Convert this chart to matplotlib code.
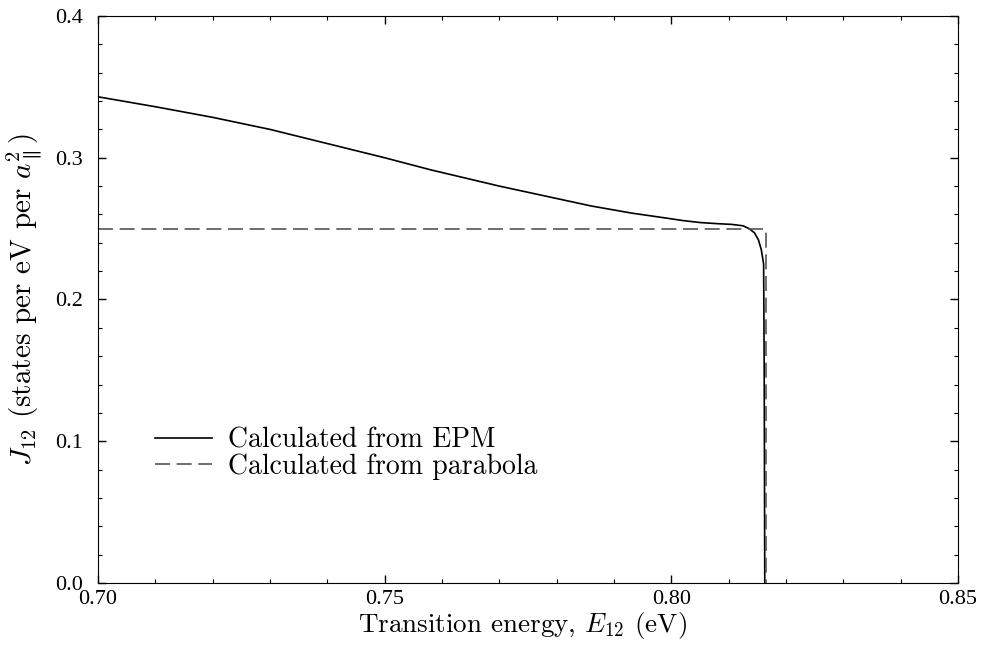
import matplotlib
matplotlib.use("Agg")
import matplotlib.pyplot as plt
from matplotlib.ticker import MultipleLocator, FormatStrFormatter

plt.rcParams["font.family"] = ["cmr10", "DejaVu Serif"]
plt.rcParams["mathtext.fontset"] = "cm"
plt.rcParams["axes.formatter.use_mathtext"] = True

# EPM joint density of states
epm_e = [0.700, 0.710, 0.720, 0.730, 0.739, 0.750, 0.758, 0.770, 0.778, 0.786,
         0.793, 0.799, 0.802, 0.805, 0.808, 0.8105, 0.8125, 0.8136, 0.8145,
         0.8152, 0.8157, 0.8161, 0.8162, 0.8163]
epm_j = [0.343, 0.336, 0.3285, 0.320, 0.311, 0.300, 0.2915, 0.280, 0.273, 0.266,
         0.261, 0.2575, 0.2557, 0.2543, 0.2535, 0.253, 0.2520, 0.250, 0.247,
         0.242, 0.235, 0.225, 0.150, 0.0]

# parabolic (step-function) approximation
para_e = [0.700, 0.8166, 0.8166]
para_j = [0.250, 0.250, 0.0]

fig = plt.figure(figsize=(9.87, 6.56), dpi=100)
ax = fig.add_axes([0.0993, 0.1113, 0.8713, 0.8643])

ax.plot(epm_e, epm_j, color="black", lw=1.2, label="Calculated from EPM")
ax.plot(para_e, para_j, color="#555555", lw=1.2, ls=(0, (9, 4)),
        label="Calculated from parabola")

ax.set_xlim(0.70, 0.85)
ax.set_ylim(0.0, 0.4)
ax.xaxis.set_major_locator(MultipleLocator(0.05))
ax.xaxis.set_minor_locator(MultipleLocator(0.01))
ax.yaxis.set_major_locator(MultipleLocator(0.1))
ax.yaxis.set_minor_locator(MultipleLocator(0.02))
ax.xaxis.set_major_formatter(FormatStrFormatter("%.2f"))
ax.yaxis.set_major_formatter(FormatStrFormatter("%.1f"))
ax.tick_params(which="both", direction="in", top=True, right=True)
ax.tick_params(which="major", length=6, width=1, labelsize=16)
ax.tick_params(which="minor", length=3, width=0.8)
ax.tick_params(axis="x", which="major", pad=5)
ax.tick_params(axis="y", which="major", pad=11)
for lab in ax.get_xticklabels() + ax.get_yticklabels():
    lab.set_family("Liberation Serif")

ax.set_xlabel(r"Transition energy, $E_{12}$ (eV)", fontsize=19.5)
ax.set_ylabel(r"$J_{12}$ (states per eV per $a_{\parallel}^2$)", fontsize=21)
ax.xaxis.set_label_coords(0.494, -0.047)
ax.yaxis.set_label_coords(-0.063, 0.5)

ax.legend(loc="upper left", bbox_to_anchor=(0.066, 0.275), frameon=False,
          fontsize=20, handlelength=2.05, handletextpad=0.6, labelspacing=0.0,
          borderpad=0, borderaxespad=0)

fig.savefig("out.png", dpi=100)
